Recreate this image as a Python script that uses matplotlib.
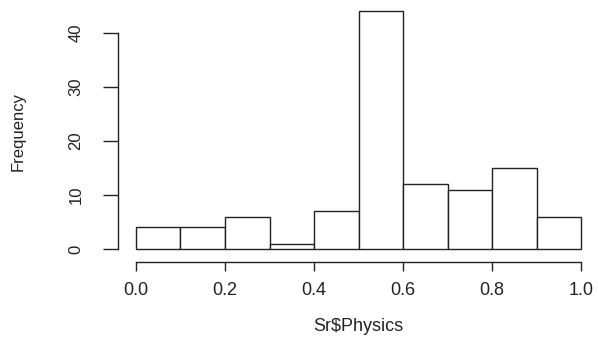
import matplotlib
matplotlib.use('Agg')
import matplotlib.pyplot as plt

# histogram of Sr$Physics, bins of width 0.1
bin_edges = [0.0, 0.1, 0.2, 0.3, 0.4, 0.5, 0.6, 0.7, 0.8, 0.9, 1.0]
counts = [4, 4, 6, 1, 7, 44, 12, 11, 15, 6]
x_ticks = [0.0, 0.2, 0.4, 0.6, 0.8, 1.0]
y_ticks = [0, 10, 20, 30, 40]

plt.rcParams['font.family'] = ['Liberation Sans', 'DejaVu Sans']
ink = '#222222'

fig = plt.figure(figsize=(5.98, 3.43), dpi=100)
ax = fig.add_axes([118/598, 81/343, 480/598, 261/343])

ax.bar(bin_edges[:-1], counts, width=0.1, align='edge',
       facecolor='white', edgecolor=ink, linewidth=1.0)

ax.set_xlim(-0.0404, 1.038)
ax.set_ylim(-2.4, 45.9)

for s in ['top', 'right']:
    ax.spines[s].set_visible(False)
ax.spines['left'].set_bounds(0, 40)
ax.spines['bottom'].set_bounds(0, 1)
for s in ['left', 'bottom']:
    ax.spines[s].set_color(ink)
    ax.spines[s].set_linewidth(1.0)

ax.set_xticks(x_ticks)
ax.set_xticklabels(['%.1f' % v for v in x_ticks])
ax.set_yticks(y_ticks)
ax.set_yticklabels([str(v) for v in y_ticks])
ax.tick_params(axis='x', length=6.5, width=1.0, color=ink, labelcolor=ink,
               labelsize=13, pad=8)
ax.tick_params(axis='y', length=10.8, width=1.0, color=ink, labelcolor=ink,
               labelsize=12, pad=14, labelrotation=90)
plt.setp(ax.get_yticklabels(), va='center')

ax.set_xlabel('Sr$Physics'.replace('$', r'\$'), fontsize=13, color=ink, va='center')
ax.xaxis.set_label_coords(0.5, -0.249)
ax.set_ylabel('Frequency', fontsize=12, color=ink, va='center')
ax.yaxis.set_label_coords(-0.208, 0.5)

fig.savefig('out.png', dpi=100)
